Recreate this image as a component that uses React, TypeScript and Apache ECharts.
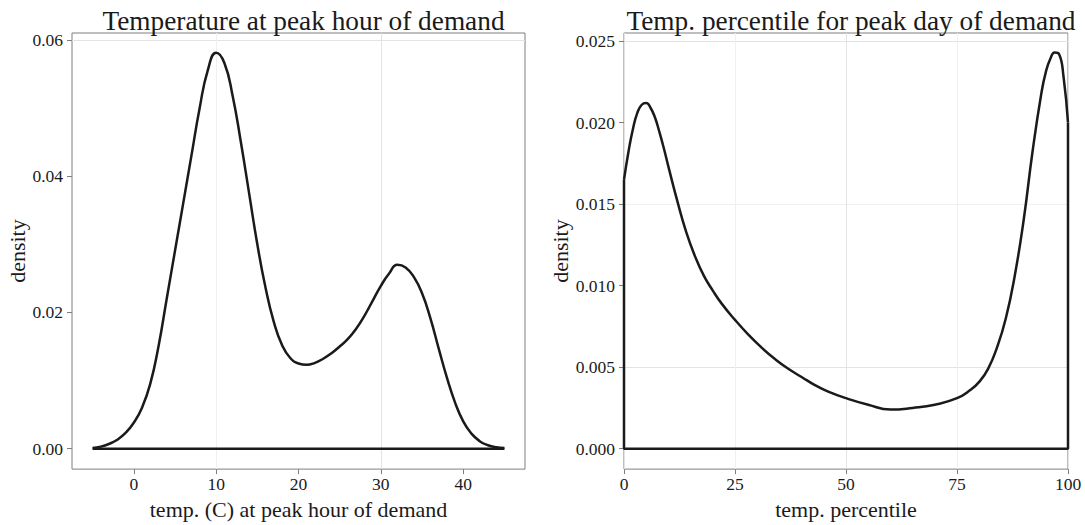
import React, { useEffect, useRef } from "react";
import * as echarts from "echarts";

// ---------- data ----------
const tempX = [-5,-4,-3,-2,-1,0,1,2,3,4,5,6,7,8,9,10,11,12,13,14,15,16,17,18,19,20,21,22,23,24,25,26,27,28,29,30,31,32,33,34,35,36,37,38,39,40,41,42,43,44,45];
const tempDensity = [0.0001,0.0003,0.0007,0.0013,0.0023,0.0038,0.0060,0.0095,0.0150,0.0220,0.0290,0.0360,0.0430,0.0500,0.0556,0.0581,0.0566,0.0518,0.0450,0.0375,0.0300,0.0236,0.0186,0.0152,0.0133,0.0125,0.0123,0.0126,0.0132,0.0140,0.0150,0.0161,0.0176,0.0195,0.0217,0.0239,0.0257,0.0270,0.0266,0.0252,0.0228,0.0192,0.0148,0.0105,0.0068,0.0040,0.0022,0.0011,0.0005,0.0002,0.0001];

const pctX = [0,1,2,3,4,5,6,7,8,9,10,12,14,16,18,20,22,25,28,31,34,37,40,43,46,50,55,60,65,70,75,78,80,82,84,86,88,90,92,94,95,96,97,98,99,100];
const pctDensity = [0.0165,0.0182,0.0196,0.0206,0.0211,0.0212,0.0209,0.0203,0.0194,0.0184,0.0173,0.0152,0.0133,0.0118,0.0106,0.0097,0.0089,0.0079,0.0070,0.0062,0.0055,0.0049,0.0044,0.0039,0.0035,0.0031,0.0027,0.0024,0.0025,0.0027,0.0031,0.0036,0.0041,0.0049,0.0062,0.0080,0.0106,0.0140,0.0182,0.0218,0.0231,0.0239,0.0243,0.0242,0.0228,0.0200];

const leftXTicks = [0, 10, 20, 30, 40];
const leftYTicks = [0, 0.02, 0.04, 0.06];
const rightXTicks = [0, 25, 50, 75, 100];
const rightYTicks = [0, 0.005, 0.01, 0.015, 0.02, 0.025];

const titles = ["Temperature at peak hour of demand", "Temp. percentile for peak day of demand"];
const xNames = ["temp. (C) at peak hour of demand", "temp. percentile"];
const yName = "density";

// ---------- styles ----------
const FONT = "'Liberation Serif', 'DejaVu Serif', serif";
const INK = "#1a1a1a";
const MAJOR = "#e3e3e3";
const MINOR = "#f0f0f0";
const NONE = "rgba(0,0,0,0)";
const BORDER = "#7f7f7f";

function periodColors(period: number, majorIdx: number, minorIdx: number) {
  const arr: string[] = [];
  for (let i = 0; i < period; i++) arr.push(i === majorIdx ? MAJOR : i === minorIdx ? MINOR : NONE);
  return arr;
}

function valueAxis(opts: any) {
  return {
    type: "value",
    gridIndex: opts.grid,
    min: opts.min,
    max: opts.max,
    interval: opts.interval,
    name: opts.name,
    nameLocation: "middle",
    nameGap: opts.nameGap,
    nameTextStyle: { fontFamily: FONT, fontSize: 22, color: INK },
    axisLine: { show: false, onZero: false },
    axisTick: {
      show: true,
      length: 5,
      customValues: opts.ticks,
      lineStyle: { color: BORDER, width: 1 },
    },
    axisLabel: {
      customValues: opts.ticks,
      margin: opts.margin,
      fontFamily: FONT,
      fontSize: 17.5,
      color: INK,
      formatter: (v: number) => v.toFixed(opts.digits),
    },
    splitLine: { show: true, lineStyle: { color: opts.colors, width: 1 } },
  };
}

export default function App() {
  const ref = useRef<HTMLDivElement>(null);
  useEffect(() => {
    if (!ref.current) return;
    const chart = echarts.init(ref.current, null, { renderer: "svg" });
    const lineStyle = { color: INK, width: 2.5 };
    const titleStyle = { fontFamily: FONT, fontSize: 27.3, fontWeight: "normal", color: INK };
    const option: any = {
      animation: false,
      backgroundColor: "#ffffff",
      title: [
        { text: titles[0], left: 298.5, top: 2, textAlign: "center", textStyle: titleStyle },
        { text: titles[1], left: 846, top: 2, textAlign: "center", textStyle: titleStyle },
      ],
      grid: [
        { left: 72, right: 1085 - 525, top: 33, bottom: 48, show: true, borderColor: BORDER, borderWidth: 1, backgroundColor: "#fff" },
        { left: 624, right: 1085 - 1068, top: 33, bottom: 48, show: true, borderColor: BORDER, borderWidth: 1, backgroundColor: "#fff" },
      ],
      xAxis: [
        valueAxis({ grid: 0, min: -7.5, max: 47.5, interval: 2.5, name: xNames[0], nameGap: 26, ticks: leftXTicks, margin: 6, digits: 0, colors: periodColors(4, 3, 1) }),
        valueAxis({ grid: 1, min: 0, max: 100, interval: 12.5, name: xNames[1], nameGap: 26, ticks: rightXTicks, margin: 6, digits: 0, colors: periodColors(2, 0, 1) }),
      ],
      yAxis: [
        valueAxis({ grid: 0, min: -0.003, max: 0.061, interval: 0.001, name: yName, nameGap: 44, ticks: leftYTicks, margin: 9, digits: 2, colors: periodColors(20, 3, 13) }),
        valueAxis({ grid: 1, min: -0.00125, max: 0.0255, interval: 0.00125, name: yName, nameGap: 43, ticks: rightYTicks, margin: 9, digits: 3, colors: periodColors(4, 1, 3) }),
      ],
      series: [
        {
          type: "line", xAxisIndex: 0, yAxisIndex: 0, symbol: "none", clip: false,
          data: [[tempX[0], 0], [tempX[tempX.length - 1], 0]], lineStyle,
        },
        {
          type: "line", xAxisIndex: 0, yAxisIndex: 0, symbol: "none", clip: false,
          smooth: 0.5,
          data: tempX.map((x, i) => [x, tempDensity[i]]), lineStyle,
        },
        {
          type: "line", xAxisIndex: 1, yAxisIndex: 1, symbol: "none", clip: false,
          data: [[pctX[0], pctDensity[0]], [pctX[0], 0], [pctX[pctX.length - 1], 0], [pctX[pctX.length - 1], pctDensity[pctDensity.length - 1]]], lineStyle,
        },
        {
          type: "line", xAxisIndex: 1, yAxisIndex: 1, symbol: "none", clip: false,
          smooth: 0.5,
          data: pctX.map((x, i) => [x, pctDensity[i]]), lineStyle,
        },
      ],
    };
    chart.setOption(option);
    return () => chart.dispose();
  }, []);
  return (
    <div
      ref={ref}
      style={{ position: "fixed", left: 0, top: 0, width: 1085, height: 525, background: "#fff" }}
    />
  );
}
